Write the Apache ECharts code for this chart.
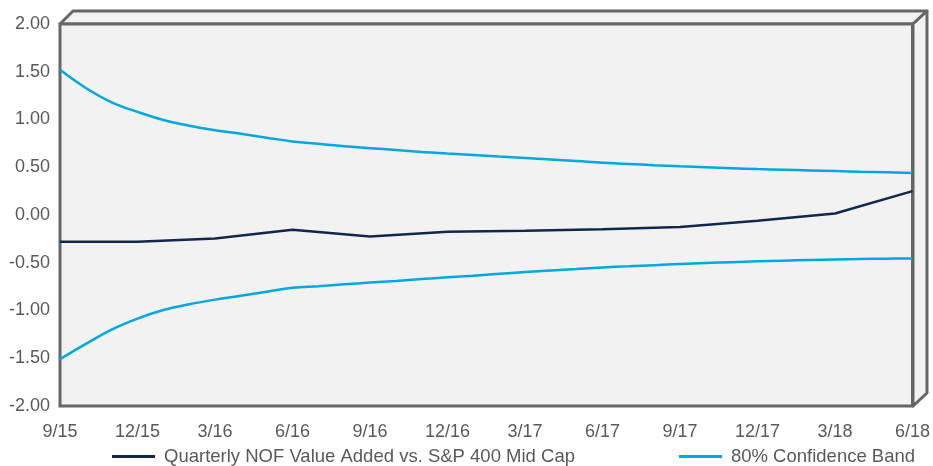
<!DOCTYPE html>
<html>
<head>
<meta charset="utf-8">
<script src="https://cdn.jsdelivr.net/npm/echarts@6/dist/echarts.min.js"></script>
<style>html,body{margin:0;padding:0;background:#fff;}#c{width:933px;height:466px;}</style>
</head>
<body>
<div id="c"></div>
<script>
var months = ['9/15','10/15','11/15','12/15','1/16','2/16','3/16','4/16','5/16','6/16','7/16','8/16',
  '9/16','10/16','11/16','12/16','1/17','2/17','3/17','4/17','5/17','6/17','7/17','8/17',
  '9/17','10/17','11/17','12/17','1/18','2/18','3/18','4/18','5/18','6/18'];
var quarterLabels = ['9/15','12/15','3/16','6/16','9/16','12/16','3/17','6/17','9/17','12/17','3/18','6/18'];
var valueAdded = [-0.28, -0.28, -0.245, -0.155, -0.225, -0.175, -0.165, -0.15, -0.125, -0.06, 0.015, 0.25];
var upperBand = [1.52, 1.33, 1.18, 1.08, 0.995, 0.935, 0.888, 0.85, 0.81, 0.77, 0.745, 0.72,
  0.70, 0.68, 0.66, 0.643, 0.628, 0.612, 0.597, 0.582, 0.565, 0.546, 0.535, 0.522,
  0.51, 0.50, 0.49, 0.481, 0.474, 0.467, 0.46, 0.453, 0.447, 0.44];
var lowerBand = [-1.51, -1.35, -1.2, -1.085, -0.995, -0.935, -0.886, -0.845, -0.803, -0.763, -0.745, -0.726,
  -0.708, -0.69, -0.671, -0.653, -0.635, -0.616, -0.598, -0.581, -0.565, -0.549, -0.537, -0.525,
  -0.513, -0.503, -0.494, -0.485, -0.478, -0.471, -0.465, -0.46, -0.457, -0.455];
var yTicks = [-2, -1.5, -1, -0.5, 0, 0.5, 1, 1.5, 2];

var nameMain = 'Quarterly NOF Value Added vs. S&P 400 Mid Cap';
var nameBand = '80% Confidence Band';

var mainData = months.map(function (m) {
  var i = quarterLabels.indexOf(m);
  return i >= 0 ? valueAdded[i] : null;
});

var chart = echarts.init(document.getElementById('c'), null, {renderer: 'canvas'});
var gray = '#666666';
var face = '#f2f2f2';
var labelColor = '#595959';
chart.setOption({
  animation: false,
  backgroundColor: '#ffffff',
  textStyle: {fontFamily: 'Liberation Sans, Arial, sans-serif'},
  grid: {left: 60, right: 20, top: 24, bottom: 60, show: true, backgroundColor: face, borderColor: gray, borderWidth: 3, z: 1},
  graphic: [
    {type: 'polygon', z: 0, shape: {points: [[60,24],[913,24],[927,11],[73,11]]}, style: {fill: face, stroke: gray, lineWidth: 3, lineJoin: 'round'}},
    {type: 'polygon', z: 0, shape: {points: [[913,24],[927,11],[927,393],[913,406]]}, style: {fill: face, stroke: gray, lineWidth: 3, lineJoin: 'round'}}
  ],
  legend: {
    left: 107, top: 442, itemWidth: 43, itemHeight: 3, itemGap: 104, icon: 'rect',
    textStyle: {fontSize: 18.5, color: labelColor, padding: [0, 0, 0, 4]},
    data: [nameMain, nameBand]
  },
  xAxis: {
    type: 'category', data: months, boundaryGap: false,
    axisLine: {show: false}, axisTick: {show: false}, splitLine: {show: false},
    axisLabel: {interval: 2, margin: 17, fontSize: 18, color: labelColor}
  },
  yAxis: {
    type: 'value', min: yTicks[0], max: yTicks[yTicks.length - 1], interval: 0.5,
    axisLine: {show: false}, axisTick: {show: false},
    splitLine: {lineStyle: {color: gray, width: 1}},
    axisLabel: {margin: 10, fontSize: 18, color: labelColor, formatter: function (v) { return v.toFixed(2); }}
  },
  series: [
    {name: nameMain, type: 'line', data: mainData, connectNulls: true, symbol: 'none', z: 5,
      lineStyle: {color: '#12284a', width: 2.5}, itemStyle: {color: '#12284a'}},
    {name: nameBand, type: 'line', data: upperBand, symbol: 'none', z: 4, smooth: 0.4,
      lineStyle: {color: '#00a8dd', width: 2.5}, itemStyle: {color: '#00a8dd'}},
    {name: nameBand, type: 'line', data: lowerBand, symbol: 'none', z: 4, smooth: 0.4,
      lineStyle: {color: '#00a8dd', width: 2.5}, itemStyle: {color: '#00a8dd'}}
  ]
});
</script>
</body>
</html>
